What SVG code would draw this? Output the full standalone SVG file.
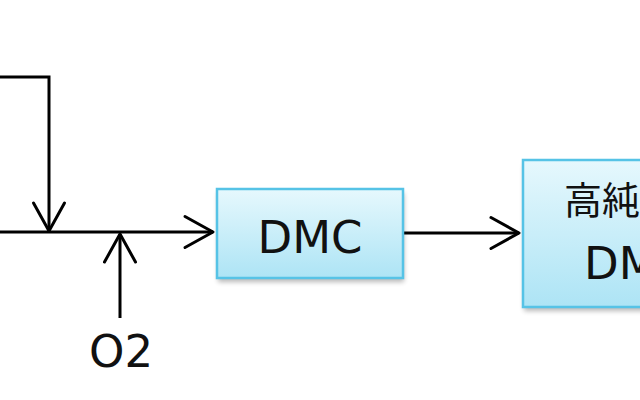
<svg xmlns="http://www.w3.org/2000/svg" width="640" height="400" viewBox="0 0 640 400">
  <defs>
    <linearGradient id="boxFill" x1="0" y1="0" x2="0" y2="1">
      <stop offset="0" stop-color="#e6f8fd"/>
      <stop offset="1" stop-color="#ade4f5"/>
    </linearGradient>
    <filter id="shadow" x="-10%" y="-10%" width="120%" height="130%">
      <feGaussianBlur stdDeviation="2.5"/>
    </filter>
    <marker id="open" markerUnits="userSpaceOnUse" markerWidth="40" markerHeight="40" viewBox="-32 -20 36 40" refX="0" refY="0" orient="auto">
      <path d="M-28,-15.5 L0,0 L-28,15.5" fill="none" stroke="#000" stroke-width="3" stroke-linejoin="round" stroke-linecap="round"/>
    </marker>
  </defs>
  <style>
    .conn { fill: none; stroke: #000; stroke-width: 3; marker-end: url(#open); }
    .box { fill: url(#boxFill); stroke: #56c3e6; stroke-width: 2.5; }
    .shadow { fill: #000; opacity: 0.28; filter: url(#shadow); }
    .lbl { font-family: "DejaVu Sans", "Noto Sans CJK JP", sans-serif; font-size: 45px; fill: #111; }
    .cjk { font-family: "Noto Sans CJK JP", "DejaVu Sans", sans-serif; font-size: 38px; fill: #111; }
  </style>
  <rect width="640" height="400" fill="#fff"/>

  <g id="connectors">
    <path class="conn" d="M0,77 H49 V231"/>
    <path class="conn" d="M0,232 H213"/>
    <path class="conn" d="M120,318 V234"/>
    <path class="conn" d="M403,233 H519"/>
  </g>

  <g id="node-o2">
    <text class="lbl" x="121" y="367" text-anchor="middle">O2</text>
  </g>

  <g id="node-dmc">
    <rect class="shadow" x="218" y="193" width="186" height="89"/>
    <rect class="box" x="217" y="189" width="186" height="89"/>
    <text class="lbl" x="310" y="253" text-anchor="middle">DMC</text>
  </g>

  <g id="node-high-purity-dmc">
    <rect class="shadow" x="524" y="164" width="220" height="147"/>
    <rect class="box" x="523" y="160" width="220" height="147"/>
    <text class="cjk" x="564" y="214">高純度</text>
    <text class="lbl" x="584" y="279">DMC</text>
  </g>
</svg>
